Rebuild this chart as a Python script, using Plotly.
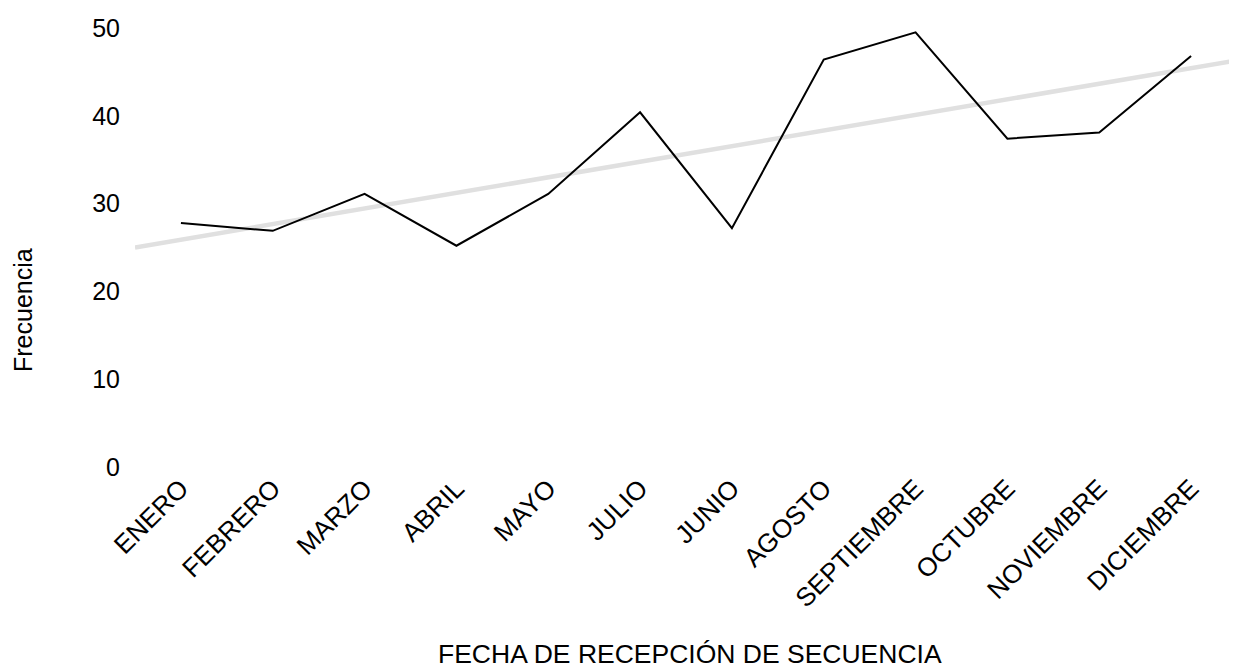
import numpy as np
import plotly.graph_objects as go

months = ["ENERO", "FEBRERO", "MARZO", "ABRIL", "MAYO", "JULIO", "JUNIO",
          "AGOSTO", "SEPTIEMBRE", "OCTUBRE", "NOVIEMBRE", "DICIEMBRE"]
frecuencia = [27.8, 26.9, 31.1, 25.2, 31.1, 40.4, 27.2, 46.4, 49.5, 37.4, 38.1, 46.8]
y_ticks = [0, 10, 20, 30, 40, 50]

idx = np.arange(len(months))
slope, intercept = np.polyfit(idx, frecuencia, 1)
trend_x = np.array([-0.5, len(months) - 0.5])
trend_y = slope * trend_x + intercept

FONT = "Liberation Sans, Arial, sans-serif"

# page body has an 8px margin; figure occupies x 8..1237, y 8..670
L, T, B = 127, 20, 203
W, H = 1229, 662
PW = W - L
PH = H - T - B
PLOT_LEFT = 135  # page px
PLOT_BOTTOM = 467

fig = go.Figure()
fig.add_trace(go.Scatter(x=trend_x, y=trend_y, mode="lines",
                         line=dict(color="#e0e0e0", width=4.5),
                         hoverinfo="skip", showlegend=False))
fig.add_trace(go.Scatter(x=idx, y=frecuencia, mode="lines",
                         line=dict(color="#000000", width=2),
                         showlegend=False))

fig.update_layout(
    width=W, height=H,
    margin=dict(l=L, r=0, t=T, b=B, pad=0),
    paper_bgcolor="white", plot_bgcolor="white",
    font=dict(family=FONT, size=26, color="#000000"),
    xaxis=dict(range=[-0.5, len(months) - 0.5], tickmode="array",
               tickvals=list(idx), ticktext=months, tickangle=-45,
               showgrid=False, zeroline=False, showline=False,
               tickfont=dict(size=26), ticks="", automargin=False),
    yaxis=dict(range=[0, 50], tickmode="array", tickvals=y_ticks,
               showgrid=False, zeroline=False, showline=False,
               tickfont=dict(size=25), ticks="", ticklabelstandoff=14,
               automargin=False),
    annotations=[
        dict(text="FECHA DE RECEPCIÓN DE SECUENCIA", xref="paper", yref="paper",
             x=(690 - PLOT_LEFT) / PW, y=-(654 - PLOT_BOTTOM) / PH, showarrow=False,
             xanchor="center", yanchor="middle", font=dict(size=26.5)),
        dict(text="Frecuencia", xref="paper", yref="paper",
             x=-(PLOT_LEFT - 23) / PW, y=(PLOT_BOTTOM - 310) / PH, showarrow=False,
             textangle=-90, xanchor="center", yanchor="middle", font=dict(size=25)),
    ],
)

fig.write_html("out.html")
